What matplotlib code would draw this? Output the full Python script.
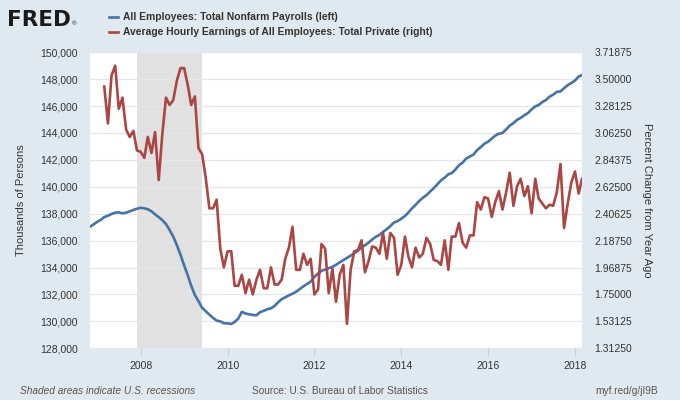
import matplotlib
matplotlib.use("Agg")
import matplotlib.pyplot as plt
import matplotlib.dates as mdates
import pandas as pd
from matplotlib.ticker import FuncFormatter, FixedLocator

plt.rcParams["font.family"] = ["Liberation Sans", "DejaVu Sans"]

# All Employees: Total Nonfarm Payrolls, thousands, monthly from Nov 2006
PAYROLL_START = "2006-11-01"
PAYROLLS = [
    137030, 137200,
    137400, 137550, 137750, 137850, 137980, 138080, 138100, 138030, 138080, 138170, 138280, 138370,
    138440, 138400, 138330, 138180, 137950, 137750, 137520, 137230, 136780, 136300, 135650, 134950,
    134150, 133400, 132650, 131950, 131500, 131000, 130750, 130500, 130250, 130050, 130000, 129850,
    129850, 129800, 129950, 130200, 130700, 130580, 130520, 130470, 130450, 130680, 130780, 130900,
    130960, 131150, 131400, 131650, 131780, 131930, 132050, 132200, 132400, 132600, 132780, 132950,
    133300, 133550, 133750, 133850, 133950, 134050, 134200, 134380, 134550, 134720, 134880, 135060,
    135250, 135500, 135650, 135850, 136080, 136280, 136420, 136650, 136850, 137080, 137350, 137450,
    137630, 137830, 138080, 138400, 138650, 138950, 139180, 139380, 139650, 139900, 140200, 140480,
    140680, 140930, 141020, 141280, 141600, 141800, 142100, 142250, 142400, 142730, 142950, 143200,
    143350, 143580, 143800, 143950, 144000, 144270, 144550, 144730, 144980, 145120, 145320, 145480,
    145750, 145980, 146080, 146300, 146450, 146700, 146850, 147060, 147090, 147330, 147560, 147720,
    147900, 148200, 148300,
]

# Average Hourly Earnings, Total Private, % change from year ago, monthly from Mar 2007
EARNINGS_START = "2007-03-01"
EARNINGS_YOY = [
    3.44, 3.14, 3.53, 3.61, 3.26, 3.35, 3.09, 3.03, 3.08, 2.92,
    2.91, 2.86, 3.03, 2.90, 3.07, 2.68, 3.05, 3.35, 3.29, 3.33, 3.49, 3.59,
    3.59, 3.45, 3.29, 3.36, 2.94, 2.89, 2.70, 2.45, 2.45, 2.52, 2.12, 1.97,
    2.10, 2.10, 1.82, 1.82, 1.91, 1.76, 1.87, 1.75, 1.87, 1.95, 1.80, 1.80,
    1.97, 1.83, 1.83, 1.87, 2.04, 2.13, 2.30, 1.95, 1.95, 2.08, 1.99, 2.04,
    1.75, 1.79, 2.16, 2.12, 1.76, 1.96, 1.69, 1.91, 1.99, 1.51, 1.95, 2.10,
    2.11, 2.19, 1.93, 2.02, 2.14, 2.13, 2.08, 2.25, 2.04, 2.25, 2.21, 1.91,
    1.99, 2.22, 2.06, 1.97, 2.13, 2.05, 2.08, 2.21, 2.16, 2.03, 2.02, 1.99,
    2.19, 1.95, 2.22, 2.22, 2.33, 2.17, 2.13, 2.23, 2.23, 2.50, 2.44, 2.54,
    2.53, 2.38, 2.50, 2.59, 2.44, 2.58, 2.74, 2.47, 2.63, 2.69, 2.55, 2.63,
    2.41, 2.69, 2.53, 2.49, 2.45, 2.48, 2.47, 2.58, 2.81, 2.29, 2.49, 2.66,
    2.75, 2.57, 2.69,
]

RECESSION = ("2007-12-01", "2009-06-01")
LEFT_TICKS = [128000, 130000, 132000, 134000, 136000, 138000,
              140000, 142000, 144000, 146000, 148000, 150000]
RIGHT_TICKS = [1.3125, 1.53125, 1.75, 1.96875, 2.1875, 2.40625,
               2.625, 2.84375, 3.0625, 3.28125, 3.5, 3.71875]
YEAR_TICKS = ["2008", "2010", "2012", "2014", "2016", "2018"]

BG = "#e1e9f0"
BLUE = "#4572a7"
RED = "#aa4643"
TXT = "#333333"

pay_dates = pd.date_range(PAYROLL_START, periods=len(PAYROLLS), freq="MS")
ahe_dates = pd.date_range(EARNINGS_START, periods=len(EARNINGS_YOY), freq="MS")

fig = plt.figure(figsize=(6.8, 4.0), dpi=100, facecolor=BG)
ax = fig.add_axes([90 / 680, 1 - 348.2 / 400, 492 / 680, 295.9 / 400])
ax.set_facecolor("white")
ax2 = ax.twinx()

ax.axvspan(pd.Timestamp(RECESSION[0]), pd.Timestamp(RECESSION[1]),
           color="#e1e1e1", lw=0, zorder=0)
ax.plot(pay_dates, PAYROLLS, color=BLUE, lw=1.9, zorder=3,
        label="All Employees: Total Nonfarm Payrolls (left)")
ax2.plot(ahe_dates, EARNINGS_YOY, color=RED, lw=1.9, zorder=3,
         label="Average Hourly Earnings of All Employees: Total Private (right)")

ax.set_xlim(pay_dates[0], pay_dates[-1])
ax.set_ylim(LEFT_TICKS[0], LEFT_TICKS[-1])
ax2.set_ylim(RIGHT_TICKS[0], RIGHT_TICKS[-1])

ax.yaxis.set_major_locator(FixedLocator(LEFT_TICKS))
ax.yaxis.set_major_formatter(FuncFormatter(lambda v, p: f"{v:,.0f}"))
ax2.yaxis.set_major_locator(FixedLocator(RIGHT_TICKS))
ax2.yaxis.set_major_formatter(FuncFormatter(lambda v, p: f"{v:.5f}"))
ax.set_xticks([pd.Timestamp(y + "-01-01") for y in YEAR_TICKS])
ax.xaxis.set_major_formatter(mdates.DateFormatter("%Y"))

ax.grid(axis="y", color="#e6e6e6", lw=0.9)
ax.set_axisbelow(True)
for a in (ax, ax2):
    for s in a.spines.values():
        s.set_visible(False)
ax.tick_params(axis="y", length=0, pad=9, labelsize=7.5, labelcolor=TXT)
ax2.tick_params(axis="y", length=0, pad=9, labelsize=7.5, labelcolor=TXT)
ax.tick_params(axis="x", length=6, width=0.8, color="#c0d0e0", pad=3,
               labelsize=7.5, labelcolor=TXT)

ax.set_ylabel("Thousands of Persons", fontsize=8, color=TXT, labelpad=10)
ax2.set_ylabel("Percent Change from Year Ago", fontsize=8, color=TXT,
               rotation=270, labelpad=14)

# header: logo + legend
fig.text(7 / 680, 1 - 26 / 400, "FRED", fontsize=15.5, fontweight="bold",
         color="#1a1a1a", family="DejaVu Sans")
fig.text(72 / 680, 1 - 25 / 400, "\u00ae", fontsize=4.5, color="#1a1a1a")
h1, l1 = ax.get_legend_handles_labels()
h2, l2 = ax2.get_legend_handles_labels()
fig.legend(h1 + h2, l1 + l2, loc="upper left",
           bbox_to_anchor=(100 / 680, 1 - 3 / 400), frameon=False,
           handlelength=0.85, handletextpad=0.5, labelspacing=0.5,
           prop={"size": 7.35, "weight": "bold"}, labelcolor=TXT)

fig.text(20 / 680, 1 - 391 / 400, "Shaded areas indicate U.S. recessions",
         fontsize=7.3, style="italic", color="#555555", va="center")
fig.text(340 / 680, 1 - 391 / 400, "Source: U.S. Bureau of Labor Statistics",
         fontsize=7.3, color="#555555", va="center", ha="center")
fig.text(658 / 680, 1 - 391 / 400, "myf.red/g/jI9B",
         fontsize=7.3, color="#555555", va="center", ha="right")

fig.savefig("out.png", dpi=100, facecolor=BG)
